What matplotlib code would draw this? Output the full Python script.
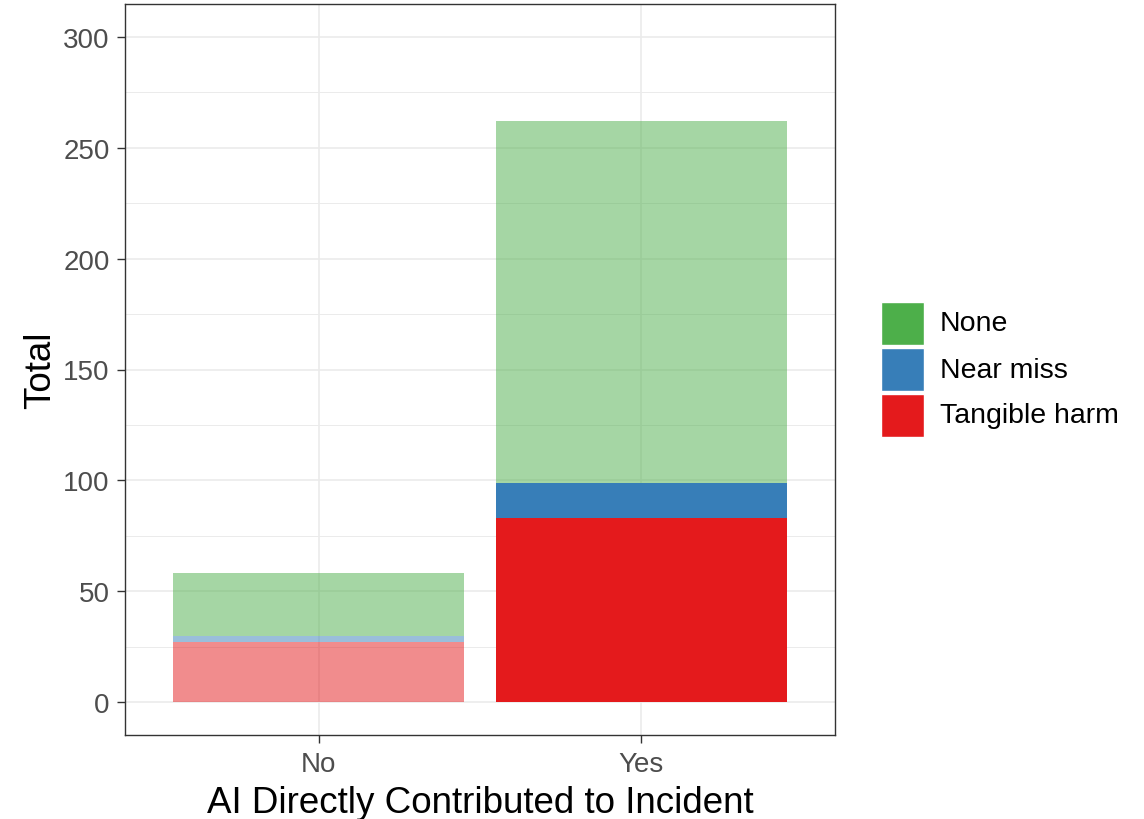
import matplotlib
matplotlib.use("Agg")
import matplotlib.pyplot as plt
from matplotlib.patches import Rectangle
import numpy as np

plt.rcParams['font.family'] = ['Liberation Sans', 'DejaVu Sans']

# data
groups = ["No", "Yes"]
harm_levels = ["Tangible harm", "Near miss", "None"]
tangible_harm = [27, 83]
near_miss = [3, 16]
none_harm = [28, 163]

colors = {"None": "#4DAF4A", "Near miss": "#377EB8", "Tangible harm": "#E41A1C"}
# segments drawn at full strength, everything else faded
solid = {("Yes", "Tangible harm"), ("Yes", "Near miss")}

W, H = 1144, 820
fig = plt.figure(figsize=(W / 100, H / 100), dpi=100)
ax = fig.add_axes([125 / W, 1 - 736.25 / H, 710 / W, 731.5 / H])

x = np.arange(1, len(groups) + 1)
bottom = np.zeros(len(groups))
for level, vals in zip(harm_levels, [tangible_harm, near_miss, none_harm]):
    for i, g in enumerate(groups):
        a = 1.0 if (g, level) in solid else 0.5
        ax.bar(x[i], vals[i], bottom=bottom[i], width=0.9, color=colors[level],
               alpha=a, linewidth=0, zorder=3)
    bottom += np.array(vals)

ax.set_xlim(0.4, 2.6)
ax.set_ylim(-15, 315)
ax.set_xticks(x)
ax.set_xticklabels(groups)
ax.set_yticks(np.arange(0, 301, 50))
ax.set_yticks(np.arange(25, 300, 50), minor=True)

ax.set_facecolor("white")
ax.grid(which="major", color="#EBEBEB", linewidth=1.2, zorder=0)
ax.grid(which="minor", axis="y", color="#EBEBEB", linewidth=0.7, zorder=0)
ax.set_axisbelow(True)
for s in ax.spines.values():
    s.set_color("#333333")
    s.set_linewidth(1.0)

ax.tick_params(which="major", length=6, width=1, color="#333333",
               labelsize=20, labelcolor="#4D4D4D", pad=5)
ax.tick_params(which="minor", length=0)

ax.set_xlabel("AI Directly Contributed to Incident", fontsize=26.5, labelpad=6)
ax.set_ylabel("Total", fontsize=26.5, labelpad=4)

# legend drawn by hand so the keys get ggplot's size and spacing (pixels)
key_left, key_size, key_top, pitch = 881, 43, 303, 46
for j, name in enumerate(["None", "Near miss", "Tangible harm"]):
    top = key_top + j * pitch
    fig.patches.append(Rectangle((key_left / W, 1 - (top + key_size) / H),
                                 key_size / W, key_size / H,
                                 transform=fig.transFigure, facecolor=colors[name],
                                 edgecolor="white", linewidth=1))
    fig.text(940 / W, 1 - (top + key_size / 2) / H, name, fontsize=20.5,
             va="center", ha="left", color="black")

fig.savefig("out.png", dpi=100)
